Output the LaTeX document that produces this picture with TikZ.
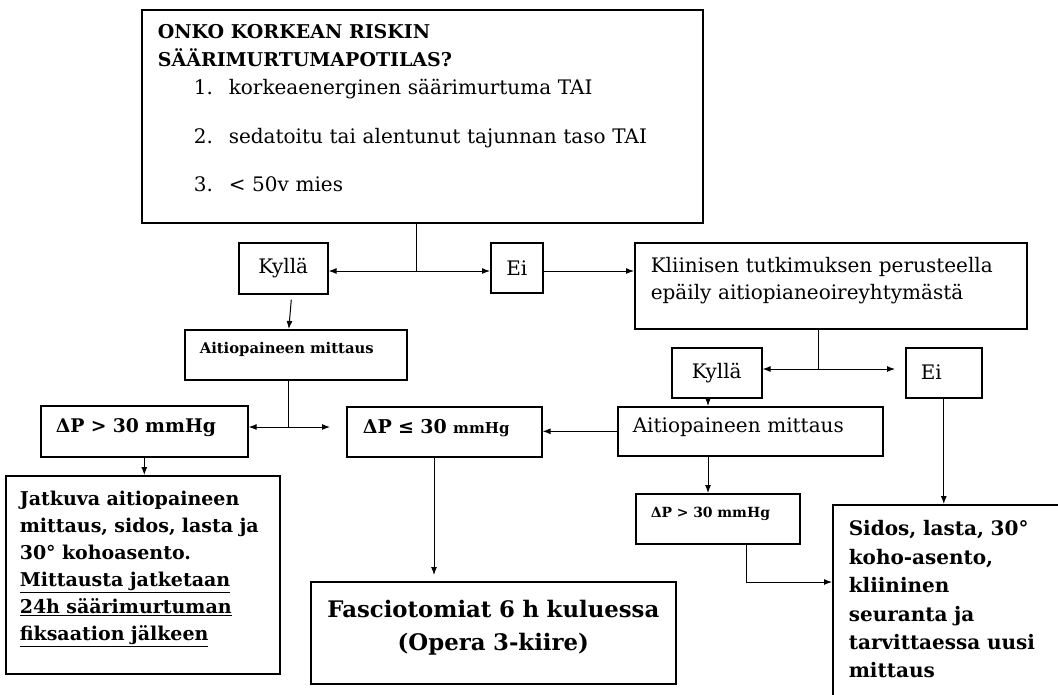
\documentclass[tikz,border=0pt]{standalone}
\usepackage{fontspec}
\setmainfont{DejaVu Serif}
\usetikzlibrary{arrows.meta,calc}

\begin{document}
\begin{tikzpicture}[
  x=1pt, y=-1pt,
  box/.style={draw,line width=1.6pt,inner xsep=15pt,inner ysep=0pt,anchor=north west},
  txt/.style={font=\fontsize{20}{27}\selectfont},
  bold/.style={font=\bfseries\fontsize{#1}{27}\selectfont},
  >={Latex[length=8pt,width=6pt]}, line width=1pt
]
  \useasboundingbox (0,0) rectangle (1058,694);
  \clip (0,0) rectangle (1058,694);

  % question box
  \node[box,inner xsep=16pt,text width=529pt,align=left,text height=29pt,
        text depth=184pt,font=\fontsize{20}{28}\selectfont] (q) at (141,9)
    {{\bfseries\fontsize{19}{28}\selectfont ONKO KORKEAN RISKIN\\
     SÄÄRIMURTUMAPOTILAS?}\\
     \hspace*{36pt}\makebox[35pt][l]{1.}korkeaenerginen säärimurtuma TAI\\[21pt]
     \hspace*{36pt}\makebox[35pt][l]{2.}sedatoitu tai alentunut tajunnan taso TAI\\[20pt]
     \hspace*{36pt}\makebox[35pt][l]{3.}< 50v mies};

  \node[box,txt,minimum width=89pt,minimum height=51pt] (yes1) at (238,242) {Kyllä};
  \node[box,txt,minimum width=52pt,minimum height=50pt] (no1) at (490,242) {Ei};
  \node[box,txt,inner xsep=16pt,text width=360pt,align=left,text height=30pt,
        text depth=56pt] (clin) at (634,242)
    {Kliinisen tutkimuksen perusteella\\ epäily aitiopianeoireyhtymästä};

  \node[box,txt,minimum width=90pt,minimum height=50pt] (yes2) at (671,347) {Kyllä};
  \node[box,txt,text width=46pt,align=left,text height=32pt,text depth=18pt]
    (no2) at (905,347) {Ei};

  \node[box,bold=14.8,text width=192pt,align=left,text height=24pt,text depth=26pt]
    (ait1) at (184,329) {Aitiopaineen mittaus};
  \node[box,txt,text width=235pt,align=left,text height=26pt,text depth=23pt]
    (ait2) at (617,406) {Aitiopaineen mittaus};

  \node[box,bold=18.8,text width=177pt,align=left,text height=27pt,text depth=24pt]
    (hi1) at (40,405) {ΔP > 30 mmHg};
  \node[box,bold=19,inner xsep=16pt,text width=163pt,align=left,text height=27pt,
        text depth=23pt] (lo) at (346,406)
    {ΔP ≤ 30 {\fontsize{15}{18}\selectfont mmHg}};
  \node[box,bold=14,text width=134pt,align=left,text height=24pt,text depth=26pt]
    (hi2) at (635,493) {ΔP > 30 mmHg};

  \node[box,bold=19,inner xsep=14pt,text width=246pt,align=left,text height=30pt,
        text depth=168pt] (cont) at (5,475)
    {Jatkuva aitiopaineen\\ mittaus, sidos, lasta ja\\ 30° kohoasento.\\
     \underline{Mittausta jatketaan}\\ \underline{24h säärimurtuman}\\
     \underline{fiksaation jälkeen}};
  \node[box,font=\bfseries\fontsize{22.8}{33}\selectfont,inner xsep=10pt,
        text width=345pt,align=center,text height=36pt,text depth=66pt]
    (fas) at (310,581) {Fasciotomiat 6 h kuluessa\\ (Opera 3-kiire)};
  \node[box,font=\bfseries\fontsize{20}{28.4}\selectfont,inner xsep=16pt,
        text width=268pt,align=left,text height=31pt,text depth=250pt]
    (care) at (832,504)
    {Sidos, lasta, 30°\\ koho-asento,\\ kliininen\\ seuranta ja\\
     tarvittaessa uusi\\ mittaus};

  % branch points
  \coordinate (j1) at (416,271);
  \coordinate (j2) at (288,427);
  \coordinate (j3) at (818,369);
  \coordinate (j4) at (746,582);
  \coordinate (j5) at (434,575);
  \coordinate (m1) at (708,0);

  \draw (j1 |- q.south) -- (j1);
  \draw[->] (j1) -- (j1 -| yes1.east);
  \draw[->] (j1) -- (j1 -| no1.west);
  \draw[->] (j1 -| no1.east) -- (j1 -| clin.west);
  \draw[->] ($(yes1.south)+(8,5)$) -- ($(ait1.north)+(-7,0)$);

  \draw (j2 |- ait1.south) -- (j2);
  \draw[->] (j2) -- (j2 -| hi1.east);
  \draw[->] (j2) -- ($(j2 -| lo.west)+(-16,0)$);
  \draw[->] (hi1.south) -- (hi1.south |- cont.north);
  \draw[->] (j5 |- lo.south) -- (j5);

  \draw (j3 |- clin.south) -- (j3);
  \draw[->] (j3) -- (j3 -| yes2.east);
  \draw[->] (j3) -- ($(j3 -| no2.west)+(-10,0)$);
  \draw[->] (m1 |- yes2.south) -- (m1 |- ait2.north);
  \draw[->] (ait2.west) -- (ait2.west -| lo.east);
  \draw[->] (m1 |- ait2.south) -- (m1 |- hi2.north);
  \draw[->] (no2.south) -- (no2.south |- care.north);
  \draw (j4 |- hi2.south) -- (j4);
  \draw[->] (j4) -- (j4 -| care.west);
\end{tikzpicture}
\end{document}
